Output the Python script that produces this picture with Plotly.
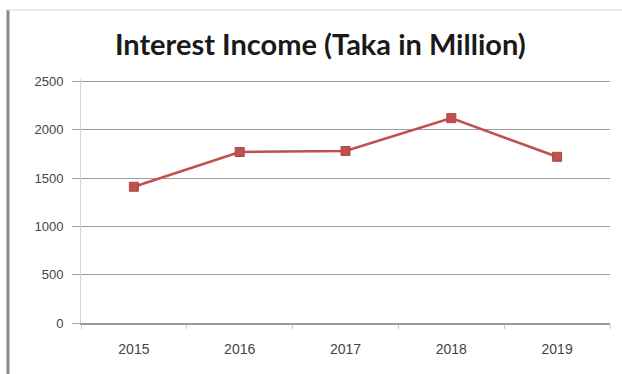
import plotly.graph_objects as go

years = ["2015", "2016", "2017", "2018", "2019"]
interest_income = [1410, 1770, 1780, 2120, 1720]
y_ticks = [0, 500, 1000, 1500, 2000, 2500]

fig = go.Figure()
fig.add_trace(go.Scatter(
    x=years, y=interest_income, mode="lines+markers",
    line=dict(color="#c0504d", width=2.5),
    marker=dict(symbol="square", size=9, color="#c0504d",
                line=dict(color="#b04441", width=1)),
    showlegend=False,
))

fig.update_layout(
    width=622, height=374,
    margin=dict(l=81, r=12, t=79, b=51),
    paper_bgcolor="white", plot_bgcolor="white",
    title=dict(text="<b>Interest Income (Taka in Million)</b>",
               x=0.515, xanchor="center", y=0.88, yanchor="middle",
               font=dict(family="Lato", size=29, color="#1a1a1a")),
    xaxis=dict(
        type="category", range=[-0.5, 4.5],
        showgrid=False, showline=True, linecolor="#9a9a9a", linewidth=1.5,
        ticks="outside", tickson="boundaries", ticklen=4, tickcolor="#c8c8c8",
        ticklabelstandoff=12,
        tickfont=dict(family="Liberation Sans", size=14, color="#444444"),
        zeroline=False,
    ),
    yaxis=dict(
        range=[0, 2525], tickvals=y_ticks,
        showgrid=True, gridcolor="#9e9e9e", gridwidth=1.2,
        showline=True, linecolor="#d4d4d4", linewidth=1,
        ticks="outside", ticklen=8, tickcolor="#a8a8a8",
        ticklabelstandoff=6,
        tickfont=dict(family="Liberation Sans", size=13, color="#444444"),
        zeroline=False,
    ),
    shapes=[
        dict(type="line", xref="paper", yref="paper",
             x0=-0.138, x1=-0.138, y0=-0.22, y1=1.283,
             line=dict(color="#8a8a8a", width=3)),
        dict(type="line", xref="paper", yref="paper",
             x0=-0.138, x1=1.03, y0=1.283, y1=1.283,
             line=dict(color="#d8d8d8", width=1)),
    ],
)

fig.write_html("out.html")
